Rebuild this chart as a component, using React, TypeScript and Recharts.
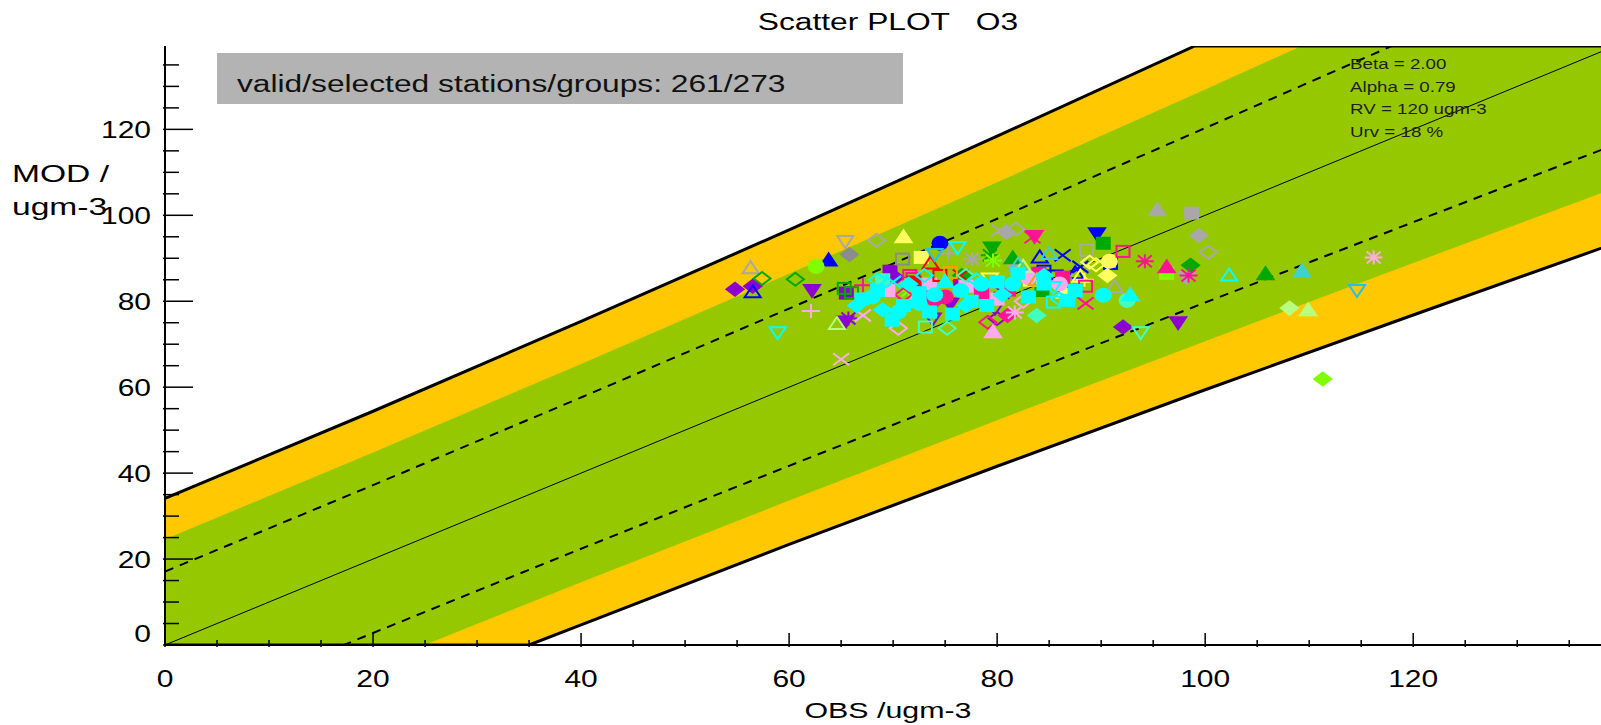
import React from 'react';
import {
  ComposedChart,
  Area,
  Line,
  Scatter,
  XAxis,
  YAxis,
} from 'recharts';

// envelope curves (at obs = 0,20,...,140)
const envObs = [0, 20, 40, 60, 80, 100, 120, 140];
const outerLo = [-34.1, -14.4, 4.7, 23.4, 41.6, 59.4, 76.8, 94.0];
const outerHi = [34.1, 54.4, 75.3, 96.6, 118.4, 140.6, 163.2, 186.0];
const greenLo = [-24.6, -4.8, 14.6, 33.6, 52.3, 70.7, 88.9, 106.9];
const greenHi = [24.6, 44.8, 65.4, 86.4, 107.7, 129.3, 151.1, 173.1];
const dashLo = [-17.1, 2.8, 22.4, 41.7, 60.8, 79.7, 98.4, 117.0];
const dashHi = [17.1, 37.2, 57.6, 78.3, 99.2, 120.3, 141.6, 163.0];

// outer limit lines as drawn (they run along the frame where clipped)
const lowerEdgeObs = [0, 35.0, 40, 60, 80, 100, 120, 140];
const lowerEdgeMod = [0, 0, 4.7, 23.4, 41.6, 59.4, 76.8, 94.0];
const upperEdgeObs = [0, 20, 40, 60, 80, 99.0, 140];
const upperEdgeMod = [34.1, 54.4, 75.3, 96.6, 118.4, 139.4, 139.4];
const diagObs = [0, 140];

const AX_MAX = 139.4;
const minorTicks = Array.from({ length: 28 }, (_, i) => i * 5);

type Pt = [number, number];
type Kind = 'diamond' | 'square' | 'circle' | 'triUp' | 'triDown' | 'plus' | 'cross' | 'star';

const C = {
  purple: '#8c00d2',
  blue: '#0000ff',
  cyan: '#00ffff',
  gray: '#a8a8a8',
  dgray: '#8c8c8c',
  green: '#00a800',
  lime: '#80ff00',
  yellow: '#ffff60',
  magenta: '#ff1493',
  lpink: '#ffaaee',
  red: '#ff0000',
  orange: '#ffa000',
  lgreen: '#b8ff80',
  aqua: '#40ffc0',
  teal: '#40d0d0',
  sky: '#20c0f0',
};

// station groups: [kind, color, filled, points]
const groups: [Kind, string, boolean, Pt[]][] = [
  ['diamond', C.purple, true, [[54.8, 82.8], [56.5, 83.5], [92.1, 74.0], [70.2, 85.5]]],
  ['triDown', C.purple, true, [[62.2, 82.6], [65.4, 75.3], [97.4, 75.1], [75.5, 79.5]]],
  ['square', C.purple, true, [[65.5, 81.9], [69.7, 87.0], [76.5, 84.5]]],
  ['star', C.purple, false, [[65.7, 76.0], [80.5, 82.0]]],
  ['triDown', C.purple, false, [[73.8, 76.0], [79.8, 78.5], [86.5, 82.0]]],
  ['diamond', C.purple, false, [[80.0, 76.0]]],
  ['triUp', C.blue, false, [[56.5, 82.1], [84.1, 90.2], [87.5, 86.5]]],
  ['triUp', C.blue, true, [[63.8, 89.5]]],
  ['circle', C.blue, true, [[74.5, 93.5]]],
  ['triDown', C.blue, true, [[89.6, 95.8]]],
  ['triDown', C.blue, false, [[85.5, 86.0]]],
  ['cross', C.blue, false, [[86.3, 90.7], [88.0, 88.0]]],
  ['square', C.blue, false, [[90.9, 88.8], [84.5, 87.0]]],
  ['triUp', C.gray, false, [[56.3, 87.7], [91.3, 83.3]]],
  ['triUp', C.dgray, false, [[87.0, 84.0]]],
  ['triDown', C.gray, false, [[65.4, 94.0]]],
  ['diamond', C.dgray, true, [[65.8, 90.9]]],
  ['diamond', C.gray, true, [[80.9, 96.0], [99.4, 95.3]]],
  ['diamond', C.gray, false, [[68.4, 94.2], [81.8, 96.8], [100.3, 91.4]]],
  ['square', C.dgray, false, [[70.9, 89.8]]],
  ['square', C.gray, false, [[88.6, 91.9]]],
  ['plus', C.gray, false, [[75.3, 91.1]]],
  ['cross', C.gray, false, [[80.2, 96.5]]],
  ['triUp', C.gray, true, [[95.4, 101.2]]],
  ['square', C.gray, true, [[98.7, 100.5]]],
  ['triDown', C.gray, true, [[98.2, 85.6], [81.5, 88.5]]],
  ['star', C.gray, false, [[77.6, 89.8]]],
  ['diamond', C.green, false, [[57.4, 85.3], [60.6, 85.1]]],
  ['square', C.green, false, [[65.3, 83.0], [66.0, 82.0]]],
  ['square', C.green, true, [[90.2, 93.5], [84.3, 82.5]]],
  ['triUp', C.green, true, [[105.8, 86.3], [81.5, 90.0]]],
  ['diamond', C.green, true, [[98.6, 88.4], [76.6, 86.0]]],
  ['star', C.green, false, [[79.3, 90.7]]],
  ['triDown', C.green, true, [[79.5, 92.5]]],
  ['circle', C.lime, true, [[62.6, 88.1]]],
  ['square', C.lime, true, [[96.3, 86.5]]],
  ['diamond', C.lime, true, [[111.3, 61.9]]],
  ['star', C.lime, false, [[79.6, 89.5], [71.5, 82.5]]],
  ['triUp', C.yellow, true, [[71.0, 94.9], [86.5, 82.0]]],
  ['square', C.yellow, true, [[72.7, 90.2]]],
  ['circle', C.yellow, true, [[90.8, 89.3]]],
  ['diamond', C.yellow, true, [[90.6, 86.0]]],
  ['diamond', C.yellow, false, [[88.9, 89.1], [89.5, 88.5]]],
  ['triDown', C.yellow, false, [[79.3, 85.3]]],
  ['triDown', C.yellow, true, [[78.4, 83.0], [72.0, 84.0]]],
  ['square', C.yellow, false, [[83.2, 84.9]]],
  ['plus', C.yellow, false, [[88.4, 85.0]]],
  ['triUp', C.yellow, false, [[88.0, 85.7]]],
  ['square', C.magenta, false, [[71.9, 85.3], [92.1, 91.6], [71.6, 86.0], [88.5, 83.5]]],
  ['star', C.magenta, false, [[94.2, 89.3], [98.4, 86.0]]],
  ['triUp', C.magenta, true, [[96.3, 87.9]]],
  ['cross', C.magenta, false, [[88.5, 79.5], [83.4, 94.9]]],
  ['triDown', C.magenta, true, [[83.6, 95.2]]],
  ['square', C.magenta, true, [[86.3, 85.6], [81.1, 82.6], [73.0, 82.0], [84.0, 86.5], [78.5, 82.0]]],
  ['diamond', C.magenta, false, [[79.1, 75.1], [71.0, 81.5]]],
  ['diamond', C.magenta, true, [[81.0, 76.7], [74.0, 80.0]]],
  ['plus', C.magenta, false, [[67.1, 83.7]]],
  ['circle', C.magenta, true, [[75.0, 81.0]]],
  ['plus', C.lpink, false, [[62.1, 77.7]]],
  ['cross', C.lpink, false, [[65.0, 66.5], [67.1, 76.7]]],
  ['diamond', C.lpink, false, [[70.5, 73.7], [82.5, 80.0]]],
  ['triUp', C.lpink, true, [[79.6, 72.8]]],
  ['star', C.lpink, false, [[116.2, 90.2], [81.7, 77.4]]],
  ['square', C.lpink, true, [[73.5, 84.0], [80.0, 80.5], [77.0, 83.5], [69.5, 82.5]]],
  ['circle', C.lpink, true, [[83.0, 85.5], [86.0, 84.0]]],
  ['triUp', C.lpink, false, [[72.0, 80.0]]],
  ['triUp', C.red, false, [[73.6, 88.8]]],
  ['square', C.red, true, [[72.0, 84.5]]],
  ['square', C.red, false, [[74.5, 86.0]]],
  ['cross', C.red, false, [[76.5, 86.0]]],
  ['square', C.orange, false, [[75.5, 86.7]]],
  ['triUp', C.orange, false, [[83.8, 84.9]]],
  ['triUp', C.lgreen, false, [[64.6, 74.7], [82.5, 88.0]]],
  ['diamond', C.lgreen, true, [[108.1, 78.4]]],
  ['triUp', C.lgreen, true, [[109.9, 77.9]]],
  ['diamond', C.aqua, false, [[75.2, 73.7], [77.0, 86.0]]],
  ['square', C.aqua, false, [[73.1, 74.0]]],
  ['diamond', C.aqua, true, [[83.8, 76.7]]],
  ['triDown', C.aqua, false, [[93.8, 72.8]]],
  ['circle', C.aqua, true, [[92.5, 80.2]]],
  ['square', C.aqua, true, [[69.0, 85.0]]],
  ['triUp', C.teal, true, [[109.3, 87.0]]],
  ['triUp', C.teal, false, [[82.0, 88.5], [85.0, 91.0]]],
  ['triDown', C.sky, false, [[114.6, 82.6], [74.0, 91.0]]],
  ['triDown', C.cyan, false, [[58.9, 72.8], [76.2, 92.6], [85.4, 83.3]]],
  ['triUp', C.cyan, false, [[102.3, 86.0]]],
  ['square', C.cyan, false, [[85.4, 79.8]]],
  ['square', C.cyan, true, [[86.8, 80.2], [69.9, 75.6], [75.7, 77.0], [67.0, 80.5], [71.0, 79.0], [73.5, 77.5], [77.5, 80.0], [68.5, 82.5], [72.5, 82.0], [79.0, 79.0], [83.0, 81.0], [84.5, 84.0], [87.5, 82.5], [80.0, 84.5], [82.0, 86.5]]],
  ['circle', C.cyan, true, [[90.2, 81.4], [68.0, 81.0], [70.5, 77.5], [74.0, 81.5], [76.5, 82.5], [72.5, 79.5], [78.5, 84.0], [81.5, 84.0]]],
  ['triUp', C.cyan, true, [[92.8, 81.4], [75.0, 84.5]]],
  ['diamond', C.cyan, true, [[66.5, 79.0], [69.0, 78.0], [71.5, 84.0], [77.0, 79.0], [80.5, 81.5], [84.5, 86.0]]],
  ['diamond', C.cyan, false, [[68.5, 85.0], [73.0, 86.0], [86.0, 80.5], [78.0, 85.0]]],
  ['cross', C.cyan, false, [[70.0, 84.5]]],
];

const envelope = envObs.map((x, i) => ({
  x,
  outer: [outerLo[i], outerHi[i]],
  green: [greenLo[i], greenHi[i]],
  dLo: dashLo[i],
  dHi: dashHi[i],
}));
const lowerEdge = lowerEdgeObs.map((x, i) => ({ x, y: lowerEdgeMod[i] }));
const upperEdge = upperEdgeObs.map((x, i) => ({ x, y: upperEdgeMod[i] }));
const diag = diagObs.map((x) => ({ x, y: x }));

const FONT = '"Liberation Sans", Arial, sans-serif';
const SX = 1.25;

const makeShape = (kind: Kind, color: string, filled: boolean) => (props: any) => {
  const { cx, cy } = props;
  if (cx == null || cy == null) return <g />;
  const fill = filled ? color : 'none';
  const sw = 2;
  switch (kind) {
    case 'diamond':
      return <polygon points={`${cx - 8.5},${cy} ${cx},${cy - 6.5} ${cx + 8.5},${cy} ${cx},${cy + 6.5}`} fill={fill} stroke={color} strokeWidth={sw} />;
    case 'square':
      return <rect x={cx - 6.5} y={cy - 5.5} width={13} height={11} fill={fill} stroke={color} strokeWidth={sw} />;
    case 'circle':
      return <ellipse cx={cx} cy={cy} rx={7.5} ry={6.5} fill={fill} stroke={color} strokeWidth={sw} />;
    case 'triUp':
      return <polygon points={`${cx - 8},${cy + 5} ${cx + 8},${cy + 5} ${cx},${cy - 7}`} fill={fill} stroke={color} strokeWidth={sw} />;
    case 'triDown':
      return <polygon points={`${cx - 8},${cy - 5} ${cx + 8},${cy - 5} ${cx},${cy + 7}`} fill={fill} stroke={color} strokeWidth={sw} />;
    case 'plus':
      return <path d={`M${cx - 9},${cy}H${cx + 9}M${cx},${cy - 7}V${cy + 7}`} stroke={color} strokeWidth={sw} />;
    case 'cross':
      return <path d={`M${cx - 8},${cy - 6}L${cx + 8},${cy + 6}M${cx - 8},${cy + 6}L${cx + 8},${cy - 6}`} stroke={color} strokeWidth={sw} />;
    default:
      return <path d={`M${cx - 9},${cy}H${cx + 9}M${cx - 7},${cy - 6}L${cx + 7},${cy + 6}M${cx - 7},${cy + 6}L${cx + 7},${cy - 6}M${cx},${cy - 7}V${cy + 7}`} stroke={color} strokeWidth={sw} />;
  }
};

const BottomTick = (props: any) => {
  const { x, y, payload } = props;
  const v = payload.value;
  const major = v % 20 === 0;
  return (
    <g>
      <line x1={x} y1={y} x2={x} y2={y - (major ? 14 : 7)} stroke="#000" strokeWidth={1.5} />
      {major && (
        <text transform={`translate(${x},${y + 40}) scale(${SX},1)`} textAnchor="middle" fontSize={24} fontFamily={FONT} fill="#000">
          {v}
        </text>
      )}
    </g>
  );
};

const LeftTick = (props: any) => {
  const { x, y, payload } = props;
  const v = payload.value;
  const major = v % 20 === 0;
  // the zero label sits a little above its tick in the original
  const ly = v === 0 ? y - 3 : y + 8.5;
  return (
    <g>
      <line x1={x} y1={y} x2={x + (major ? 30 : 16)} y2={y} stroke="#000" strokeWidth={1.5} />
      {major && (
        <text transform={`translate(${x - 12},${ly}) scale(${SX},1)`} textAnchor="end" fontSize={24} fontFamily={FONT} fill="#000">
          {v}
        </text>
      )}
    </g>
  );
};

const TopTick = (props: any) => {
  const { x, y, payload } = props;
  const major = payload.value % 20 === 0;
  return <line x1={x} y1={y} x2={x} y2={y + (major ? 14 : 7)} stroke="#000" strokeWidth={1.5} />;
};

const RightTick = (props: any) => {
  const { x, y, payload } = props;
  const major = payload.value % 20 === 0;
  return <line x1={x} y1={y} x2={x - (major ? 30 : 16)} y2={y} stroke="#000" strokeWidth={1.5} />;
};

const T = ({ x, y, size, children, anchor = 'start', fill = '#000', sx = SX }: any) => (
  <text
    transform={`translate(${x},${y}) scale(${sx},1)`}
    fontSize={size}
    textAnchor={anchor}
    fontFamily={FONT}
    fill={fill}
    style={{ whiteSpace: 'pre' }}
  >
    {children}
  </text>
);

export default function App() {
  const axisCommon = {
    type: 'number' as const,
    domain: [0, AX_MAX],
    allowDataOverflow: true,
    ticks: minorTicks,
    interval: 0 as const,
    tickSize: 0,
    tickLine: false,
    axisLine: { stroke: '#000', strokeWidth: 2 },
  };
  return (
    <div style={{ position: 'fixed', left: 0, top: 0, width: 1601, height: 725, overflow: 'hidden', background: '#fff' }}>
      <ComposedChart width={1640} height={725} margin={{ top: 46, right: 25, bottom: 0, left: 0 }}>
        <XAxis xAxisId="b" dataKey="x" orientation="bottom" height={80} tick={<BottomTick />} {...axisCommon} />
        <XAxis xAxisId="t" dataKey="x" orientation="top" height={0} tick={<TopTick />} {...axisCommon} />
        <YAxis yAxisId="l" dataKey="y" orientation="left" width={165} tick={<LeftTick />} {...axisCommon} />
        <YAxis yAxisId="r" dataKey="y" orientation="right" width={0} tick={<RightTick />} {...axisCommon} />

        <Area xAxisId="b" yAxisId="l" data={envelope} dataKey="outer" type="linear" fill="#ffc800" fillOpacity={1} stroke="none" dot={false} activeDot={false} isAnimationActive={false} />
        <Area xAxisId="b" yAxisId="l" data={envelope} dataKey="green" type="linear" fill="#96c800" fillOpacity={1} stroke="none" dot={false} activeDot={false} isAnimationActive={false} />
        <Line xAxisId="b" yAxisId="l" data={envelope} dataKey="dLo" type="linear" stroke="#000" strokeWidth={2} strokeDasharray="9 7" dot={false} activeDot={false} isAnimationActive={false} />
        <Line xAxisId="b" yAxisId="l" data={envelope} dataKey="dHi" type="linear" stroke="#000" strokeWidth={2} strokeDasharray="9 7" dot={false} activeDot={false} isAnimationActive={false} />
        <Line xAxisId="b" yAxisId="l" data={diag} dataKey="y" type="linear" stroke="#000" strokeWidth={1} dot={false} activeDot={false} isAnimationActive={false} />
        <Line xAxisId="b" yAxisId="l" data={lowerEdge} dataKey="y" type="linear" stroke="#000" strokeWidth={3} dot={false} activeDot={false} isAnimationActive={false} />
        <Line xAxisId="b" yAxisId="l" data={upperEdge} dataKey="y" type="linear" stroke="#000" strokeWidth={3} dot={false} activeDot={false} isAnimationActive={false} />

        {groups.map(([kind, color, filled, pts], i) => (
          <Scatter
            key={i}
            xAxisId="b"
            yAxisId="l"
            data={pts.map(([x, y]) => ({ x, y }))}
            shape={makeShape(kind, color, filled)}
            isAnimationActive={false}
          />
        ))}
      </ComposedChart>

      <svg width={1601} height={725} style={{ position: 'absolute', left: 0, top: 0, pointerEvents: 'none' }}>
        <T x={888} y={30} size={23} sx={1.38} anchor="middle">{'Scatter PLOT   O3'}</T>
        <rect x={217} y={53} width={686} height={51} fill="#b3b3b3" />
        <T x={237} y={92} size={23} sx={1.38} fill="#111">valid/selected stations/groups: 261/273</T>
        <T x={1350} y={69} size={15} fill="#1e1e1e">Beta = 2.00</T>
        <T x={1350} y={92} size={15} fill="#1e1e1e">Alpha = 0.79</T>
        <T x={1350} y={114} size={15} fill="#1e1e1e">RV = 120 ugm-3</T>
        <T x={1350} y={137} size={15} fill="#1e1e1e">Urv = 18 %</T>
        <T x={12} y={182} size={24} sx={1.4}>MOD /</T>
        <T x={12} y={215} size={24} sx={1.4}>ugm-3</T>
        <T x={888} y={718} size={22} sx={1.38} anchor="middle">OBS /ugm-3</T>
      </svg>
    </div>
  );
}
